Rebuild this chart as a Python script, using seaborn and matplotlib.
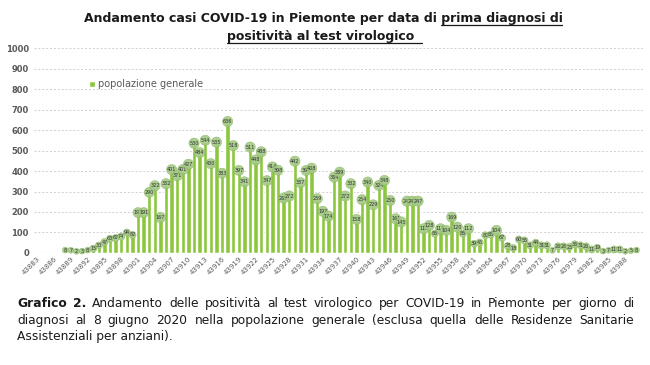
import matplotlib
matplotlib.use("Agg")
import matplotlib.pyplot as plt
import seaborn as sns
import pandas as pd

sns.set_style("white")
plt.rcParams['font.family'] = ['DejaVu Sans']

# daily positives, Excel serial dates 43883 (22 Feb) .. 43990 (8 Jun 2020)
days = [str(d) for d in range(43883, 43991)]
cases = [0, 0, 0, 0, 0, 8, 7, 2, 3, 8, 15, 30, 47, 63, 67, 74, 94, 82,
         191, 191, 290, 322, 167, 332, 401, 371, 401, 427, 530, 484, 544, 430,
         535, 383, 636, 518, 397, 341, 511, 448, 488, 347, 414, 398,
         262, 272, 442, 337, 397, 408, 259, 197, 174, 364, 389, 272, 332, 158,
         254, 340, 229, 324, 348, 250, 161, 145, 247, 247, 247,
         112, 128, 88, 112, 104, 169, 120, 88, 112, 39, 45, 80, 83, 104, 67,
         28, 18, 60, 55, 31, 44, 31, 31, 7, 26, 26, 23, 36, 31, 26, 11, 19,
         3, 7, 11, 11, 2, 5, 8]
assert len(cases) == len(days)

series_name = "popolazione generale"
bar_color = "#8cc63f"
grey = "#595959"

df = pd.DataFrame({"giorno": days, "casi": cases})

fig = plt.figure(figsize=(6.5, 3.65), dpi=100)
ax = fig.add_axes([0.053, 0.307, 0.94, 0.561])

sns.barplot(data=df, x="giorno", y="casi", color=bar_color, saturation=1,
            width=0.78, label=series_name, ax=ax)

# value labels on top of each bar
for p, v in zip(ax.patches, cases):
    if v > 0:
        ax.text(p.get_x() + p.get_width() / 2, v + 6, str(v), ha="center",
                va="center", fontsize=3.5, color="#333333", zorder=5,
                bbox=dict(boxstyle="circle,pad=0.1", fc="#a3c985",
                          ec="#86b35a", lw=0.3, alpha=0.9))

ax.set_ylim(0, 1000)
ax.set_xlim(-0.5, len(days) + 0.6)
ax.set_yticks(range(0, 1001, 100))
ax.tick_params(axis="y", labelsize=6, labelcolor=grey, length=0, pad=4)
for lab in ax.get_yticklabels():
    lab.set_fontweight("bold")

tick_pos = list(range(0, len(days), 3))
ax.set_xticks(tick_pos)
ax.set_xticklabels([days[i] for i in tick_pos], rotation=45, ha="right",
                   rotation_mode="anchor", fontsize=5, color=grey)
ax.tick_params(axis="x", length=0, pad=2)

ax.yaxis.grid(True, color="#d0d0d0", linestyle=(0, (2, 2)), linewidth=0.7)
ax.set_axisbelow(True)
sns.despine(ax=ax, left=True, bottom=True)
ax.axhline(0, color="#d9d9d9", lw=0.8, zorder=0)
ax.set_xlabel("")
ax.set_ylabel("")

ax.legend(loc="upper left", bbox_to_anchor=(0.075, 0.89), frameon=False,
          fontsize=7, handlelength=0.6, handleheight=0.6, handletextpad=0.3,
          labelcolor=grey)

# title with underlined part
W, H = fig.get_size_inches() * fig.dpi
r = fig.canvas.get_renderer()
title1 = "Andamento casi COVID-19 in Piemonte per data di prima diagnosi di"
under1 = "prima diagnosi di"
title2 = "positività al test virologico"
tfont = dict(fontsize=9.0, fontweight="bold", color="#1a1a1a")
t1 = fig.text(0.497, 0.94, title1, ha="center", va="baseline", **tfont)
t2 = fig.text(0.497, 0.89, title2 + "\u00a0", ha="center", va="baseline", **tfont)
tmp = fig.text(0, 0, under1, **tfont)
wu = tmp.get_window_extent(r).width
tmp.remove()
b1 = t1.get_window_extent(r)
b2 = t2.get_window_extent(r)
fig.add_artist(plt.Line2D([(b1.x1 - wu) / W, b1.x1 / W], [0.94 - 3 / H] * 2,
                          color="#1a1a1a", lw=0.9))
fig.add_artist(plt.Line2D([b2.x0 / W, (b2.x1 + 3) / W], [0.89 - 3 / H] * 2,
                          color="#1a1a1a", lw=0.9))

# justified caption
cap_lines = [
    [("Grafico", "bold"), ("2.", "bold"), ("Andamento", "normal"),
     ("delle", "normal"), ("positività", "normal"), ("al", "normal"),
     ("test", "normal"), ("virologico", "normal"), ("per", "normal"),
     ("COVID-19", "normal"), ("in", "normal"), ("Piemonte", "normal"),
     ("per", "normal"), ("giorno", "normal"), ("di", "normal")],
    [(w, "normal") for w in "diagnosi al 8 giugno 2020 nella popolazione generale "
     "(esclusa quella delle Residenze Sanitarie".split()],
]
cap_last = "Assistenziali per anziani)."
cap_left, cap_right = 17 / W, 634 / W
cap_y = [0.159, 0.113, 0.068]
cfont = dict(fontsize=8.8, color="#1a1a1a", va="baseline")

for words, y in zip(cap_lines, cap_y):
    arts = [fig.text(0, y, w, fontweight=wt, **cfont) for w, wt in words]
    widths = [a.get_window_extent(r).width / W for a in arts]
    gap = (cap_right - cap_left - sum(widths)) / (len(arts) - 1)
    x = cap_left
    for a, w in zip(arts, widths):
        a.set_x(x)
        x += w + gap
fig.text(cap_left, cap_y[2], cap_last, **cfont)

fig.savefig("out.png", dpi=100)
